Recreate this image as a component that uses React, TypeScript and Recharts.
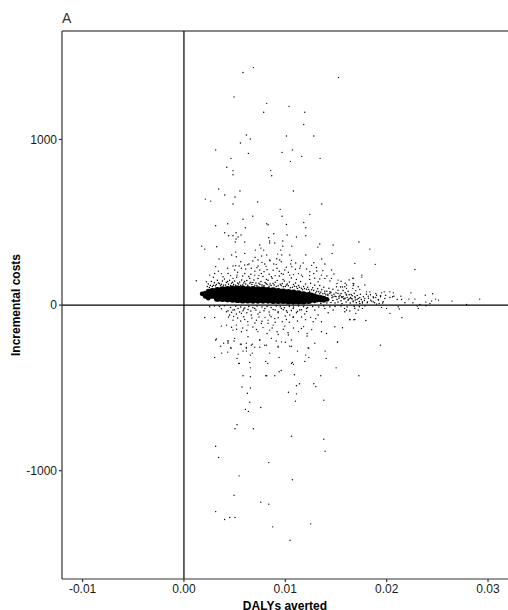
import { ScatterChart, Scatter, XAxis, YAxis, ReferenceLine } from "recharts";

type Pt = [number, number];

const X_TICKS = [-0.01, 0, 0.01, 0.02, 0.03];
const Y_TICKS = [-1000, 0, 1000];

// far points above the band
const upperPoints: Pt[] = [
  [.00685,1434],[.00583,1404],[.01525,1374],[.00494,1257],[.00817,1218],[.01037,1200],[.00787,1164],[.01192,1164],
  [.01182,1090],[.00616,1027],[.00655,1003],[.01011,1021],[.01281,1021],[.00557,979],[.00313,937],[.0107,937],
  [.00636,916],[.00968,922],[.01162,898],[.00464,886],[.01343,886],[.0105,868],[.00422,832],[.00484,812],
  [.00484,787],[.00856,812],[.00866,781],[.00343,701],[.00553,689],[.0108,689],[.00402,665],[.00504,653],
  [.00211,640],[.00264,628],[.00728,622],[.00484,610],[.0136,610],[.00949,578],[.01242,548],[.00679,536],
  [.00968,536],[.00583,518],[.00432,491],[.00313,479],[.00817,491],[.0083,485],[.01011,487],[.01182,499],
  [.00606,467],[.01202,467],[.00402,437],[.00514,437],[.00441,419],[.00484,419],[.00563,423],[.00534,411],
  [.00886,431],[.01018,423],[.00836,407],[.0111,411],[.01202,419],[.00514,399],
  [.00175,356],[.00205,338],[.00323,352],[.00507,381],[.006,381],[.00748,363],[.00758,344],[.00787,332],
  [.00846,387],[.00846,375],[.00896,375],[.00975,387],[.00975,356],[.01064,356],[.0134,369],[.01321,350],
  [.01472,363],[.00705,332],[.00955,332],[.00925,308],[.00965,302],[.00511,320],[.00471,302],[.006,312],
  [.00702,288],[.00767,296],[.00817,302],[.00916,280],[.01044,302],[.01202,302],[.01462,312],[.00346,278],
  [.00392,278],[.00517,292],[.00313,232],[.00484,236],[.00544,236],[.006,242],[.00642,248],[.00731,272],
  [.00731,236],[.00797,248],[.00846,272],[.00886,248],[.00945,272],[.01054,248],[.01103,254],[.01176,254],
  [.01281,256],[.0136,278],[.0139,248],[.01686,252],[.00501,212],[.00567,222],[.00665,222],[.00748,212],
  [.0082,215],[.00919,222],[.00995,212],[.01064,232],[.01143,222],[.01307,227],[.01241,201],[.01281,191],
  [.01456,212],[.00303,191],[.00386,171],[.00435,191],[.00524,181],[.006,191],[.00698,181],[.00764,191],
  [.00863,171],[.00962,191],[.01044,181],[.01159,181],[.01357,181],[.01456,161],[.01521,151],[.01669,161],
  [.00122,147],[.00254,181],[.00221,141],[.00484,161],[.00649,161],[.00814,155],[.00978,155],[.0111,155],
  [.01241,155],[.01324,141],[.0139,161],[.01505,111],[.01587,111],[.01669,131],[.01719,111],
];

// extra scatter between the band and 300
const midPoints: Pt[] = [
  [.0029,168],[.0034,205],[.0037,190],[.0043,222],[.0046,178],[.0051,238],[.0053,198],[.0056,262],[.0058,176],[.0061,218],
  [.0063,244],[.0066,186],[.0068,266],[.0070,205],[.0072,226],[.0074,178],[.0077,258],[.0079,202],[.0081,234],[.0084,186],
  [.0085,268],[.0088,210],[.0090,178],[.0091,246],[.0094,204],[.0096,262],[.0098,186],[.0101,228],[.0103,198],[.0106,270],
  [.0108,184],[.0110,216],[.0113,190],[.0115,236],[.0117,172],[.0121,218],[.0124,178],[.0126,240],[.0129,162],[.0131,206],
  [.0134,158],[.0137,208],[.0141,176],[.0144,146],[.0148,188],[.0151,130],[.0155,144],[.0159,132],[.0163,152],[.0167,118],
];

// points around the dense band, just over and under it
const haloPoints: Pt[] = [
  [.0024,128],[.0027,142],[.0030,135],[.0033,150],[.0035,131],[.0038,146],[.0040,158],[.0042,136],[.0045,150],[.0047,132],
  [.0050,146],[.0052,168],[.0055,140],[.0057,152],[.0059,134],[.0062,148],[.0064,172],[.0066,138],[.0069,152],[.0071,134],
  [.0073,160],[.0076,142],[.0078,172],[.0080,136],[.0083,150],[.0085,128],[.0087,162],[.0090,138],[.0092,148],[.0094,176],
  [.0097,130],[.0099,146],[.0101,122],[.0104,140],[.0106,164],[.0108,124],[.0110,134],[.0113,118],[.0115,142],[.0118,112],
  [.0120,128],[.0122,108],[.0125,132],[.0127,104],[.0129,120],[.0132,98],[.0134,118],[.0136,92],[.0138,108],[.0141,84],
  [.0143,102],[.0145,78],[.0147,96],[.0150,74],[.0152,90],[.0155,70],[.0157,88],[.0160,66],[.0162,84],[.0165,64],
  [.0023,112],[.0026,118],[.0029,120],[.0032,124],[.0037,126],[.0041,122],[.0044,126],[.0049,124],[.0054,128],[.0058,122],
  [.0061,128],[.0067,124],[.0070,120],[.0075,126],[.0079,118],[.0082,124],[.0086,118],[.0089,122],[.0093,116],[.0096,118],
  [.0100,112],[.0103,116],[.0107,108],[.0111,110],[.0116,102],[.0119,100],[.0123,94],[.0128,88],[.0131,84],[.0135,78],
  [.0139,72],[.0142,66],[.0146,60],[.0149,54],[.0153,52],[.0156,46],[.0159,42],[.0163,38],[.0166,36],[.0169,44],
  [.0025,106],[.0028,112],[.0031,116],[.0034,134],[.0036,118],[.0039,120],[.0043,142],[.0046,118],[.0048,138],[.0051,120],
  [.0053,134],[.0056,120],[.0060,142],[.0063,120],[.0065,132],[.0068,136],[.0072,118],[.0074,132],[.0077,122],[.0081,130],
  [.0084,114],[.0088,130],[.0091,112],[.0095,126],[.0098,110],[.0102,128],[.0105,104],[.0109,114],[.0112,100],[.0114,108],
  [.0117,92],[.0121,96],[.0124,84],[.0126,92],[.0130,74],[.0133,80],[.0137,68],[.0140,62],[.0144,70],[.0147,50],
  [.0030,-6],[.0035,-8],[.0040,-4],[.0046,-14],[.0051,-6],[.0056,-12],[.0060,-18],[.0064,-8],[.0068,-14],[.0072,-6],
  [.0077,-12],[.0082,-8],[.0086,-14],[.0091,-6],[.0095,-10],[.0099,-16],[.0104,-8],[.0108,-12],[.0113,-6],[.0118,-10],
  [.0122,-14],[.0127,-8],[.0133,-12],[.0138,-6],[.0144,-10],[.0149,-8],[.0155,-6],[.0161,-12],[.0168,-8],[.0173,-10],
  [.00254,-10],[.00435,-34],[.00484,-30],[.00534,-20],[.00583,-34],[.00632,-26],[.00698,-20],[.00797,-20],[.0088,-26],[.00962,-20],
  [.01011,-34],[.01077,-20],[.01143,-30],[.01209,-20],[.01291,-30],[.0139,-20],[.01472,-30],[.01603,-30],[.01686,-20],[.00451,-60],
  [.0037,-22],[.0042,-40],[.0047,-44],[.0050,-28],[.0055,-42],[.0059,-24],[.0062,-46],[.0066,-36],[.0071,-30],[.0075,-44],
  [.0079,-34],[.0084,-42],[.0090,-30],[.0093,-40],[.0098,-28],[.0102,-44],[.0106,-32],[.0112,-38],[.0116,-28],[.0121,-38],
];

// speckled run of the band past its solid part
const speckPoints: Pt[] = [
  [.0131,52],[.0132,20],[.0134,68],[.0135,38],[.0135,10],[.0137,50],[.0138,24],[.0139,84],[.0140,40],[.0141,12],
  [.0142,58],[.0143,32],[.0144,80],[.0145,16],[.0146,44],[.0147,28],[.0148,66],[.0149,12],[.0150,50],[.0151,34],
  [.0152,70],[.0152,18],[.0153,42],[.0154,60],[.0155,26],[.0156,10],[.0157,52],[.0158,36],[.0159,74],[.0160,18],
  [.0161,46],[.0162,30],[.0163,62],[.0164,12],[.0165,40],[.0166,56],[.0167,24],[.0168,72],[.0169,30],[.0170,14],
  [.0171,58],[.0172,40],[.0173,22],[.0174,66],[.0175,34],[.0176,12],[.0177,50],[.0178,28],[.0180,66],[.0181,18],
  [.0182,42],[.0184,62],[.0185,24],[.0187,44],[.0188,14],[.0190,60],[.0192,30],[.0194,56],[.0196,12],[.0199,60],
];

// points under the band and the low outliers
const lowerPoints: Pt[] = [
  [.00517,-54],[.00567,-50],[.00665,-60],[.00731,-54],[.00846,-60],[.00929,-46],[.01044,-60],[.0111,-46],[.01192,-54],[.01324,-60],
  [.01423,-46],[.00205,-75],[.00303,-75],[.00484,-91],[.006,-87],[.00715,-91],[.0083,-91],[.00896,-81],[.01011,-87],[.01077,-75],
  [.01275,-101],[.01637,-87],[.01686,-87],[.00369,-127],[.00419,-121],[.00517,-121],[.00632,-121],[.00764,-111],[.0088,-121],[.00995,-127],
  [.01159,-141],[.01357,-101],[.01489,-131],[.00484,-151],[.00567,-161],[.00715,-147],[.00846,-151],[.00919,-161],[.01027,-167],[.01215,-171],
  [.01215,-187],[.01357,-161],[.01406,-171],[.0032,-205],[.00435,-222],[.00501,-201],[.00632,-191],[.00748,-211],[.00863,-201],[.00962,-222],
  [.0106,-211],[.00567,-236],[.00665,-242],[.00814,-242],[.00929,-248],[.01044,-248],[.01225,-258],[.01515,-222],[.00461,-258],[.00616,-256],
  [.00313,-211],[.00435,-215],[.00494,-217],[.00392,-230],[.00435,-230],[.00557,-236],[.00616,-230],[.00675,-236],[.00748,-211],[.0091,-217],
  [.01,-224],[.00363,-248],[.00465,-260],[.00616,-260],[.00698,-254],[.00748,-254],[.00797,-242],[.00929,-254],[.01061,-248],[.01291,-230],
  [.01515,-224],[.01232,-260],[.0112,-278],[.01393,-278],[.00372,-290],[.00432,-284],[.00583,-278],[.00616,-278],[.00675,-290],[.00846,-290],
  [.00534,-296],[.00656,-302],[.01202,-302],[.00303,-316],[.00524,-322],[.00939,-316],[.01232,-316],[.01403,-322],[.01192,-340],[.0054,-352],
  [.00546,-352],[.00649,-346],[.00807,-340],[.00827,-352],[.01061,-352],[.0107,-346],[.0108,-358],[.00656,-379],[.01501,-379],[.00959,-395],
  [.00939,-403],[.00583,-427],[.00656,-433],[.00807,-427],[.00817,-427],[.00896,-427],[.0109,-421],[.0135,-427],[.01726,-427],[.0114,-475],
  [.01281,-475],[.0111,-487],[.01301,-493],[.00573,-495],[.00656,-501],[.01031,-526],[.00626,-532],[.0111,-536],[.011,-580],[.0138,-574],
  [.00649,-586],[.00758,-618],[.00606,-630],[.00636,-642],[.00524,-723],[.00504,-747],[.00685,-747],[.01061,-792],[.0138,-810],[.00313,-852],
  [.01393,-882],[.00343,-920],[.00837,-951],[.00544,-1031],[.0107,-1055],[.00494,-1148],[.00758,-1190],[.00837,-1202],[.00313,-1247],[.00451,-1283],
  [.00504,-1283],[.00402,-1295],[.01251,-1321],[.00876,-1339],[.01047,-1420],
  [.0044,-72],[.0049,-68],[.0053,-78],[.0056,-96],[.0059,-70],[.0063,-100],[.0067,-78],[.0070,-108],[.0074,-72],[.0077,-98],
  [.0080,-74],[.0083,-110],[.0086,-70],[.0090,-104],[.0093,-76],[.0097,-100],[.0100,-66],[.0104,-104],[.0108,-70],[.0112,-96],
  [.0116,-72],[.0120,-88],[.0125,-74],[.0130,-82],[.0047,-134],[.0052,-146],[.0058,-138],[.0062,-152],[.0068,-132],[.0073,-160],
  [.0078,-136],[.0082,-172],[.0087,-138],[.0093,-178],[.0098,-146],[.0103,-180],[.0108,-138],[.0113,-160],[.0118,-130],[.0126,-148],
];

// right hand tail of the band
const tailPoints: Pt[] = [
  [.01726,381],[.01834,338],[.01887,246],[.02279,215],[.01666,163],[.01755,181],[.01755,169],[.01676,127],[.01785,121],[.01545,109],
  [.01564,109],[.01604,121],[.01604,101],[.01666,101],[.01735,95],[.01696,87],[.01801,80],[.01834,80],[.01893,70],[.01949,74],
  [.01976,80],[.02032,80],[.02065,74],[.02071,54],[.0214,54],[.02239,74],[.02381,60],[.02453,68],[.02483,36],[.02512,30],
  [.02644,24],[.02918,36],[.02219,36],[.02279,36],[.02104,34],[.02147,34],[.0218,14],[.02259,14],[.02387,18],[.02427,10],
  [.02443,24],[.02328,4],[.02302,-6],[.02312,-20],[.02387,-4],[.02789,4],[.02114,-10],[.02124,-24],[.01999,-20],[.02032,-50],
  [.01949,-14],[.0215,-76],[.01795,-93],[.01637,-89],[.01676,-89],[.01564,-137],[.01939,-242],[.01587,-40],[.01637,-36],[.01696,-50],
  [.01719,-30],[.01761,-20],[.01584,-20],[.01785,-6],[.01554,50],[.01578,40],[.01604,60],[.0162,30],[.01643,46],[.0167,20],
  [.01686,50],[.01709,34],[.01735,46],[.01761,20],[.01785,40],[.01818,54],[.01841,30],[.01867,20],[.01893,46],[.01916,34],
  [.01939,50],[.01966,20],[.01982,40],[.02032,46],[.01867,50],[.01808,14],[.01735,10],[.01926,10],[.019,6],[.02059,50],
];

// the thin ends of the band, solid but narrow
const edgePoints: Pt[] = [
  [.0018,68],[.0021,72],[.0021,52],[.0024,84],[.0024,58],[.0024,42],[.0126,62],[.0126,44],[.0126,28],[.0129,56],
  [.0129,40],[.0129,26],[.0132,50],[.0132,32],[.0135,46],[.0135,30],[.0138,42],[.0138,28],[.0141,34],
];

// solid middle of the band
const corePoints: Pt[] = [
  [.0028,82],[.0033,88],[.0038,92],[.0043,94],[.0048,96],[.0053,96],[.0058,96],[.0063,94],[.0068,94],[.0073,92],
  [.0078,92],[.0083,88],[.0088,86],[.0093,82],[.0098,78],[.0103,76],[.0108,72],[.0113,68],[.0118,62],[.0123,58],
  [.0028,60],[.0033,62],[.0038,64],[.0043,66],[.0048,66],[.0053,66],[.0058,66],[.0063,64],[.0068,64],[.0073,64],
  [.0078,62],[.0083,60],[.0088,58],[.0093,56],[.0098,54],[.0103,52],[.0108,50],[.0113,48],[.0118,46],[.0123,44],
  [.0033,42],[.0038,40],[.0043,38],[.0048,36],[.0053,34],[.0058,32],[.0063,32],[.0068,30],[.0073,30],
  [.0078,30],[.0083,30],[.0088,28],[.0093,28],[.0098,28],[.0103,26],[.0108,26],[.0113,26],[.0118,26],[.0123,28],
];

const toRows = (pts: Pt[]) => pts.map(([x, y]) => ({ x, y }));

const tickStyle = { fontFamily: "'Liberation Sans', Arial, sans-serif", fontSize: 12, fill: "#1a1a1a" };
const titleStyle = { fontFamily: "'Liberation Sans', Arial, sans-serif", fontSize: 12, fontWeight: 700, fill: "#000" };

const dotShape = (r: number) => (props: any) => (
  <circle cx={props.cx} cy={props.cy} r={r} fill="#000" />
);

export default function App() {
  return (
    <div style={{ position: "absolute", left: 0, top: 0, width: 508, height: 610, overflow: "hidden", background: "#fff" }}>
      <ScatterChart width={508} height={610} margin={{ top: 31, right: 0, bottom: 0, left: 0 }}>
        <XAxis
          type="number"
          dataKey="x"
          domain={[-0.01203, 0.03197]}
          ticks={X_TICKS}
          tickFormatter={(v: number) => v.toFixed(2)}
          allowDataOverflow
          height={31}
          tickSize={3}
          tick={tickStyle}
          stroke="#333"
          strokeWidth={1.2}
          label={{ value: "DALYs averted", position: "insideBottom", offset: 0, style: titleStyle }}
        />
        <YAxis
          type="number"
          dataKey="y"
          domain={[-1654, 1655]}
          ticks={Y_TICKS}
          allowDataOverflow
          width={62}
          tickSize={3}
          tick={tickStyle}
          stroke="#333"
          strokeWidth={1.2}
          label={{ value: "Incremental costs", angle: -90, position: "insideLeft", offset: 16, style: { ...titleStyle, textAnchor: "middle" } }}
        />
        <ReferenceLine y={1655} stroke="#888" strokeWidth={2} />
        <Scatter data={toRows(corePoints)} shape={dotShape(3.6)} isAnimationActive={false} />
        <Scatter data={toRows(edgePoints)} shape={dotShape(2.4)} isAnimationActive={false} />
        <Scatter data={toRows(haloPoints)} shape={dotShape(0.75)} isAnimationActive={false} />
        <Scatter data={toRows(speckPoints)} shape={dotShape(0.75)} isAnimationActive={false} />
        <Scatter data={toRows(midPoints)} shape={dotShape(0.7)} isAnimationActive={false} />
        <Scatter data={toRows(upperPoints)} shape={dotShape(0.7)} isAnimationActive={false} />
        <Scatter data={toRows(lowerPoints)} shape={dotShape(0.7)} isAnimationActive={false} />
        <Scatter data={toRows(tailPoints)} shape={dotShape(0.7)} isAnimationActive={false} />
        <ReferenceLine x={0} stroke="#000" strokeWidth={1.2} />
        <ReferenceLine y={0} stroke="#000" strokeWidth={1.2} />
        <text x={62} y={23} fontFamily="'Liberation Sans', Arial, sans-serif" fontSize={14} fill="#333">A</text>
      </ScatterChart>
    </div>
  );
}
